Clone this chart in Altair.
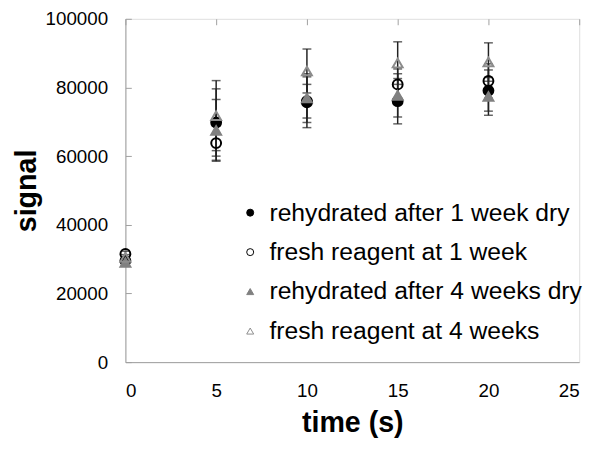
import altair as alt
import pandas as pd

times = [0, 5, 10, 15, 20]
series = [
    "rehydrated after 1 week dry",
    "\u2002fresh reagent at 1 week",
    "rehydrated after 4 weeks dry",
    "\u2002fresh reagent at 4 weeks",
]
rehyd_1wk = [29500, 69800, 75700, 76000, 79100]
rehyd_1wk_err = [1000, 9800, 7400, 6600, 6000]
fresh_1wk = [31500, 63800, 76000, 80900, 81900]
fresh_1wk_err = [800, 5000, 4900, 4500, 5000]
rehyd_4wk = [29000, 67500, 76900, 77700, 77400]
rehyd_4wk_err = [1000, 9000, 7100, 6300, 5500]
fresh_4wk = [30500, 71800, 84800, 87100, 87400]
fresh_4wk_err = [800, 10200, 6400, 6200, 5600]
x_ticks = [0, 5, 10, 15, 20, 25]
y_ticks = [0, 20000, 40000, 60000, 80000, 100000]

vals = [rehyd_1wk, fresh_1wk, rehyd_4wk, fresh_4wk]
errs = [rehyd_1wk_err, fresh_1wk_err, rehyd_4wk_err, fresh_4wk_err]

rows = []
for s, v, e in zip(series, vals, errs):
    for t, yv, ev in zip(times, v, e):
        rows.append({"time": t, "series": s, "signal": yv, "lo": yv - ev, "hi": yv + ev})
df = pd.DataFrame(rows)

W, H = 460, 348
xs = alt.Scale(domain=[0, 25], nice=False)
ys = alt.Scale(domain=[0, 100000], nice=False)
FONT = "Liberation Sans"
AXCOL = "#a0a0a0"

bars = alt.Chart(df).mark_rule(color="#222", strokeWidth=1.5).encode(
    x=alt.X("time:Q", scale=xs, axis=alt.Axis(
        values=x_ticks, title="time (s)", grid=True, gridColor=AXCOL,
        gridDash=[6, 2000], gridOpacity=1, tickSize=0,
        domainColor=AXCOL, labelFontSize=19, labelColor="black", labelPadding=20,
        labelFont=FONT, titleFont=FONT, titleFontSize=29, titleFontWeight="bold",
        titleColor="black", titlePadding=8)),
    y=alt.Y("lo:Q", scale=ys, axis=alt.Axis(
        values=y_ticks, title="signal", grid=True, gridColor=AXCOL,
        gridDash=[6, 2000], gridOpacity=1,
        tickSize=0, domainColor=AXCOL, labelFontSize=19, labelColor="black",
        labelPadding=18, labelFont=FONT, titleFont=FONT, titleFontSize=29,
        titleFontWeight="bold", titleColor="black", titlePadding=4, format="d")),
    y2="hi:Q")

cap_hi = alt.Chart(df).mark_tick(color="#222", thickness=1.5, size=9, orient="horizontal").encode(
    x=alt.X("time:Q", scale=xs), y=alt.Y("hi:Q", scale=ys))
cap_lo = alt.Chart(df).mark_tick(color="#222", thickness=1.5, size=9, orient="horizontal").encode(
    x=alt.X("time:Q", scale=xs), y=alt.Y("lo:Q", scale=ys))

leg = alt.Legend(title=None, orient="none", legendX=114, legendY=184,
                 labelFontSize=25, labelFont=FONT, labelColor="black", labelLimit=0,
                 symbolSize=50, rowPadding=14, labelOffset=7, padding=0,
                 symbolStrokeWidth=1)

shape_sc = alt.Scale(domain=series, range=["circle", "circle", "triangle-up", "triangle-up"])
stroke_sc = alt.Scale(domain=series, range=["black", "black", "#808080", "#8c8c8c"])
fill_sc = alt.Scale(domain=series, range=["black", "transparent", "#808080", "transparent"])

pts = alt.Chart(df).mark_point(size=100, strokeWidth=2, opacity=1).encode(
    x=alt.X("time:Q", scale=xs),
    y=alt.Y("signal:Q", scale=ys),
    shape=alt.Shape("series:N", scale=shape_sc, legend=leg),
    stroke=alt.Stroke("series:N", scale=stroke_sc, legend=leg),
    fill=alt.Fill("series:N", scale=fill_sc, legend=leg),
)

chart = alt.layer(bars, cap_hi, cap_lo, pts).properties(
    width=W, height=H,
    autosize=alt.AutoSizeParams(type="none"),
    padding={"left": 119, "top": 8, "right": 15, "bottom": 77},
).configure_view(stroke=None).configure(background="white")

chart.save("out.html", embed_options={"renderer": "svg", "actions": False})
